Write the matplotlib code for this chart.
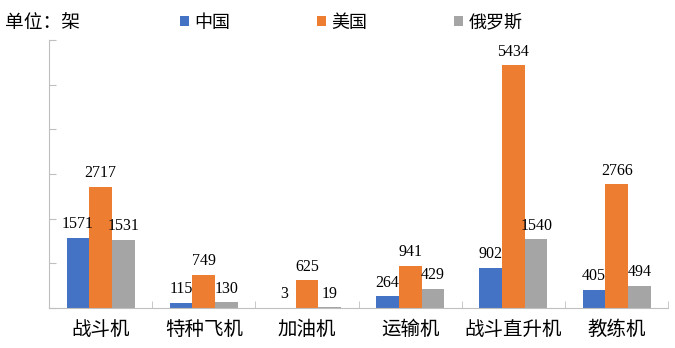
import matplotlib.pyplot as plt
import numpy as np

plt.rcParams['font.family'] = ['Noto Sans CJK SC', 'DejaVu Sans']

# 机型类别与各国数量（架）
categories = ["战斗机", "特种飞机", "加油机", "运输机", "战斗直升机", "教练机"]
china = [1571, 115, 3, 264, 902, 405]
usa = [2717, 749, 625, 941, 5434, 2766]
russia = [1531, 130, 19, 429, 1540, 494]
series_names = ["中国", "美国", "俄罗斯"]
colors = ["#4472C4", "#ED7D31", "#A5A5A5"]

fig = plt.figure(figsize=(6.75, 3.48), dpi=100)
ax = fig.add_axes([0.0726, 0.115, 0.9174, 0.77])

x = np.arange(len(categories))
w = 0.22
for i, (vals, name, c) in enumerate(zip([china, usa, russia], series_names, colors)):
    bars = ax.bar(x + (i - 1) * w, vals, w, color=c, label=name)
    ax.bar_label(bars, padding=4, fontsize=11.5, family='Liberation Serif')

ax.set_xlim(-0.5, len(categories) - 0.5)
ax.set_ylim(0, 6000)
ax.set_yticks(np.arange(0, 6001, 1000))
ax.set_yticklabels([])
ax.tick_params(axis='y', direction='in', length=5, color='#BFBFBF')

ax.set_xticks(x)
ax.set_xticklabels(categories, fontsize=14, fontweight='light')
ax.set_xticks(np.arange(-0.5, len(categories), 1), minor=True)
ax.tick_params(axis='x', which='major', length=0, pad=8)
ax.tick_params(axis='x', which='minor', direction='in', length=5, color='#BFBFBF')

for s in ['top', 'right']:
    ax.spines[s].set_visible(False)
ax.spines['left'].set_color('#BFBFBF')
ax.spines['bottom'].set_color('#BFBFBF')

fig.text(0.007, 0.935, "单位：架", fontsize=13.5, va='center', fontweight='light')
fig.legend(loc='center left', bbox_to_anchor=(0.266, 0.935), ncol=3, frameon=False,
           prop={'size': 13, 'weight': 'light'},
           handlelength=0.5, handleheight=0.5, handletextpad=0.3,
           columnspacing=4.8, borderaxespad=0, borderpad=0)

fig.savefig('out.png', dpi=100)
